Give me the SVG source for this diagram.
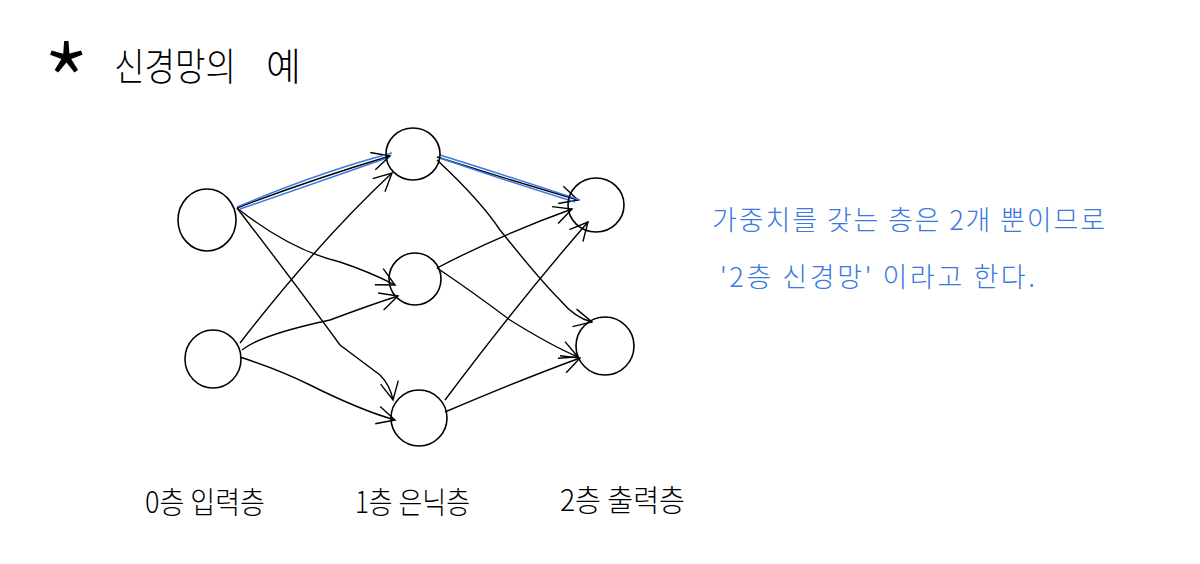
<svg xmlns="http://www.w3.org/2000/svg" width="1200" height="564" viewBox="0 0 1200 564">
<style>
.node{fill:none;stroke:#000;stroke-width:1.6}
.edge{fill:none;stroke:#000;stroke-width:1.4}
.blue{fill:none;stroke:#3a78e0;stroke-width:1.4}
.t{font-family:"Noto Sans CJK KR","Noto Sans",sans-serif;font-weight:300;fill:#000}
.b{font-family:"Noto Sans CJK KR","Noto Sans",sans-serif;font-weight:300;fill:#3a78e0}
</style>
<defs>
<marker id="ah" viewBox="-20 -10 22 20" refX="0" refY="0" markerWidth="22" markerHeight="20" markerUnits="userSpaceOnUse" orient="auto">
<path d="M-18,-9 L0,0 L-18,9" fill="none" stroke="#000" stroke-width="1.4"/>
</marker>
</defs>
<rect width="1200" height="564" fill="#fff"/>
<text class="t" x="42" y="128" font-size="110" font-weight="100">*</text>
<text class="t" x="114" y="80" font-size="38" textLength="122" lengthAdjust="spacingAndGlyphs">신경망의</text>
<text class="t" x="266" y="80" font-size="38">예</text>
<g id="connectors">
<path class="edge" marker-end="url(#ah)" d="M237,208 Q310,180 390,156"/>
<path class="blue" d="M237,207 Q320,172 392,153 M240,209 Q310,185 387,158"/>
<path class="edge" marker-end="url(#ah)" d="M237,208 Q290,250 340,262 Q370,272 395,285"/>
<path class="edge" marker-end="url(#ah)" d="M237,208 Q300,290 340,345 Q360,360 380,375 Q390,385 393,400"/>
<path class="edge" marker-end="url(#ah)" d="M240,343 Q320,240 392,173"/>
<path class="edge" marker-end="url(#ah)" d="M242,350 Q260,335 330,320 Q370,305 398,296"/>
<path class="edge" marker-end="url(#ah)" d="M240,357 Q280,370 310,385 Q360,410 395,420"/>
<path class="edge" marker-end="url(#ah)" d="M437,157 Q510,180 578,200"/>
<path class="blue" d="M440,155 Q520,180 580,200 M440,158 Q510,182 575,202"/>
<path class="edge" marker-end="url(#ah)" d="M437,160 Q480,200 500,230 Q540,280 560,300 Q575,318 592,322"/>
<path class="edge" marker-end="url(#ah)" d="M437,268 Q500,235 572,209"/>
<path class="edge" marker-end="url(#ah)" d="M437,268 Q470,290 510,320 Q550,345 578,357"/>
<path class="edge" marker-end="url(#ah)" d="M445,400 Q520,300 588,222"/>
<path class="edge" marker-end="url(#ah)" d="M445,412 Q520,380 580,358"/>
</g>
<g id="in1"><ellipse class="node" cx="207" cy="220" rx="29" ry="31"/></g>
<g id="in2"><ellipse class="node" cx="213" cy="359" rx="28" ry="29"/></g>
<g id="h1"><ellipse class="node" cx="413" cy="154" rx="27" ry="26"/></g>
<g id="h2"><ellipse class="node" cx="415" cy="279" rx="26" ry="26"/></g>
<g id="h3"><ellipse class="node" cx="419" cy="418" rx="28" ry="28"/></g>
<g id="o1"><ellipse class="node" cx="596" cy="205" rx="28" ry="27"/></g>
<g id="o2"><ellipse class="node" cx="605" cy="346" rx="29" ry="29"/></g>
<text class="b" x="712" y="230" font-size="27" textLength="393">가중치를  갖는  층은  2개 뿐이므로</text>
<text class="b" x="720" y="287" font-size="27" textLength="315">'2층 신경망' 이라고  한다.</text>
<text class="t" x="145" y="513" font-size="30" textLength="120" lengthAdjust="spacingAndGlyphs">0층 입력층</text>
<text class="t" x="355" y="513" font-size="30" textLength="115" lengthAdjust="spacingAndGlyphs">1층 은닉층</text>
<text class="t" x="560" y="511" font-size="30" textLength="125" lengthAdjust="spacingAndGlyphs">2층 출력층</text>
</svg>
